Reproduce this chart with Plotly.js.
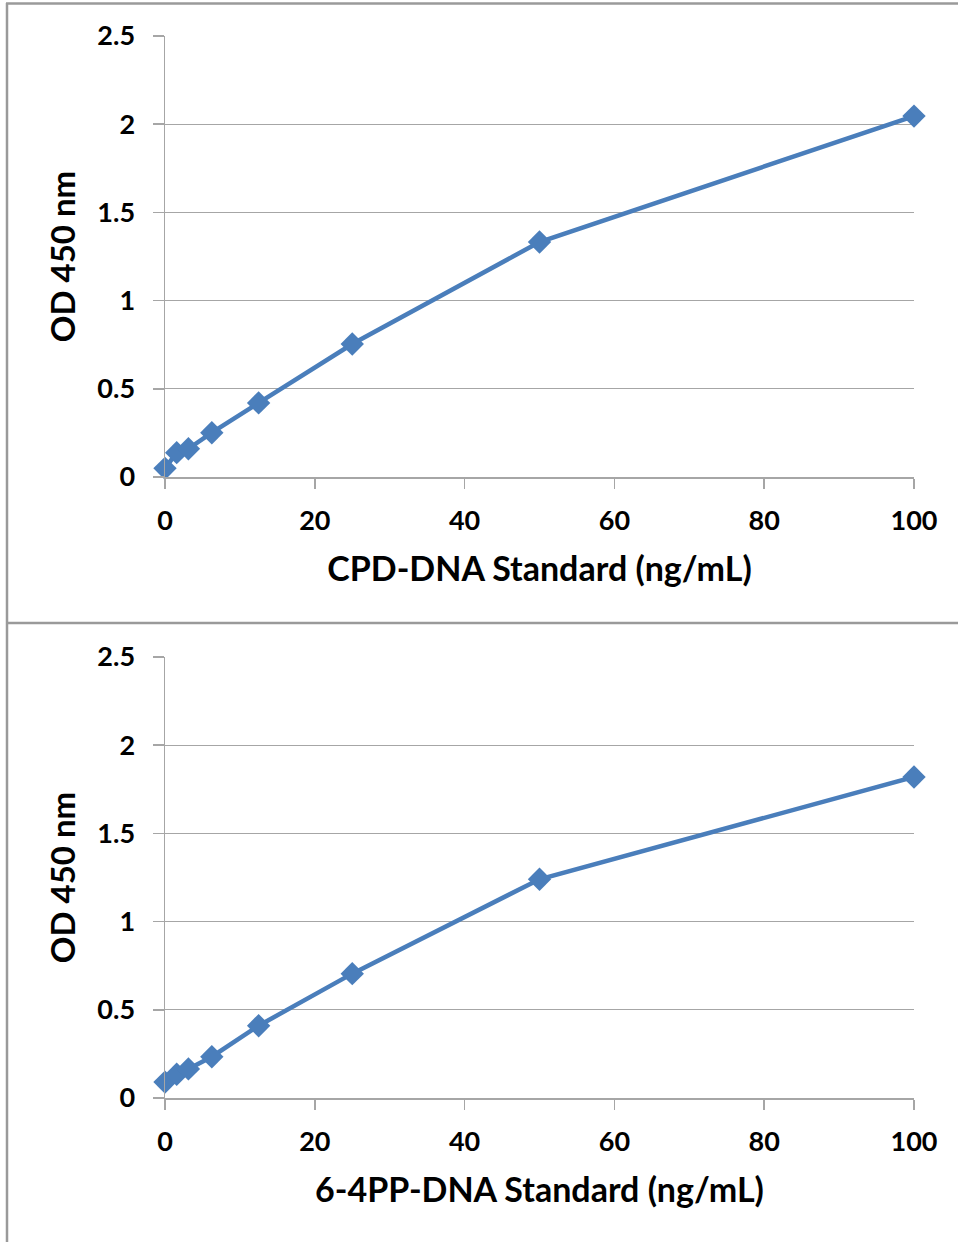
<!DOCTYPE html>
<html>
<head>
<meta charset="utf-8">
<script src="https://cdn.plot.ly/plotly-3.0.1.min.js"></script>
<style>html,body{margin:0;padding:0;background:#fff;}#chart{width:958px;height:1242px;}</style>
</head>
<body>
<div id="chart"></div>
<script>
const concentrations = [0, 1.5625, 3.125, 6.25, 12.5, 25, 50, 100];
const cpdOD = [0.049, 0.138, 0.160, 0.251, 0.420, 0.754, 1.332, 2.046];
const pp64OD = [0.090, 0.135, 0.165, 0.234, 0.410, 0.705, 1.240, 1.820];
const xTicks = [0, 20, 40, 60, 80, 100];
const yTicks = [0, 0.5, 1, 1.5, 2, 2.5];
const yTickText = ['0', '0.5', '1', '1.5', '2', '2.5'];
const xTitleTop = 'CPD-DNA Standard (ng/mL)';
const xTitleBottom = '6-4PP-DNA Standard (ng/mL)';
const yTitle = 'OD 450 nm';

const W = 958, H = 1242;
const px = v => v / W;
const py = v => 1 - v / H;

const lineColor = '#4a7ebb';
const gridColor = '#a6a6a6';
const fontFam = 'Lato, "Open Sans", sans-serif';

function trace(y, xa, ya) {
  return {
    x: concentrations, y: y, xaxis: xa, yaxis: ya,
    type: 'scatter', mode: 'lines+markers', cliponaxis: false,
    line: {color: lineColor, width: 4.5},
    marker: {symbol: 'diamond', size: 18, color: lineColor},
    showlegend: false, hoverinfo: 'x+y'
  };
}

function xaxis(domain, anchor, title) {
  return {
    domain: domain, anchor: anchor, range: [0, 100],
    tickvals: xTicks, ticktext: xTicks.map(String),
    showgrid: false, zeroline: false,
    showline: true, linecolor: gridColor, linewidth: 1.5,
    ticks: 'outside', ticklen: 10, tickcolor: gridColor, tickwidth: 1.5,
    ticklabelstandoff: 9,
    tickfont: {family: fontFam, size: 27, color: '#000', weight: 'bold'},
    title: {text: title, standoff: 22, font: {family: fontFam, size: 34, color: '#000', weight: 'bold'}},
    fixedrange: true
  };
}
function yaxis(domain, anchor) {
  return {
    domain: domain, anchor: anchor, range: [0, 2.5],
    tickvals: yTicks, ticktext: yTickText,
    showgrid: true, gridcolor: gridColor, gridwidth: 1.3,
    zeroline: false,
    showline: true, linecolor: gridColor, linewidth: 1.5,
    ticks: 'outside', ticklen: 11, tickcolor: gridColor, tickwidth: 1.5,
    ticklabelstandoff: 12,
    tickfont: {family: fontFam, size: 27, color: '#000', weight: 'bold'},
    title: {text: yTitle, standoff: 12, font: {family: fontFam, size: 33, color: '#000', weight: 'bold'}},
    fixedrange: true
  };
}

const xd = [px(165), px(914)];
const layout = {
  width: W, height: H,
  margin: {l: 0, r: 0, t: 0, b: 0},
  paper_bgcolor: '#fff', plot_bgcolor: '#fff',
  xaxis: xaxis(xd, 'y', xTitleTop),
  yaxis: yaxis([py(477), py(36)], 'x'),
  xaxis2: xaxis(xd, 'y2', xTitleBottom),
  yaxis2: yaxis([py(1098), py(657)], 'x2'),
  shapes: [
    {type: 'line', xref: 'paper', yref: 'paper', x0: px(7), x1: px(7), y0: py(3), y1: 0, line: {color: '#9a9a9a', width: 2.5}},
    {type: 'line', xref: 'paper', yref: 'paper', x0: px(6), x1: 1, y0: py(3.5), y1: py(3.5), line: {color: '#9a9a9a', width: 2.5}},
    {type: 'line', xref: 'paper', yref: 'paper', x0: px(6), x1: 1, y0: py(623), y1: py(623), line: {color: '#9a9a9a', width: 2.5}}
  ]
};

Plotly.newPlot('chart', [trace(cpdOD, 'x', 'y'), trace(pp64OD, 'x2', 'y2')], layout, {displayModeBar: false, staticPlot: true});
</script>
</body>
</html>
